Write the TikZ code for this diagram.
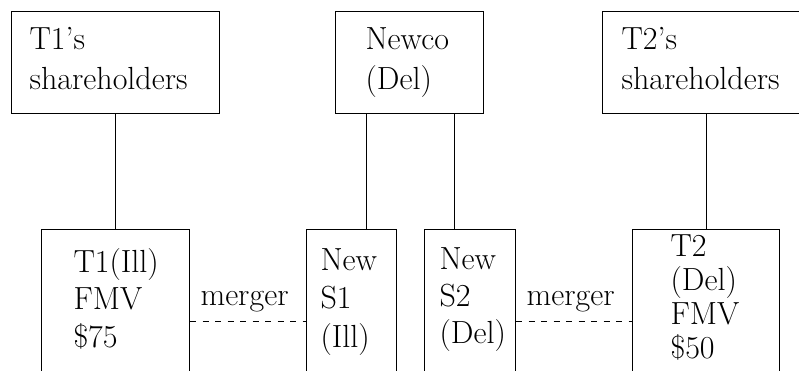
\documentclass[tikz,border=0pt]{standalone}
\usepackage{fontspec}
\begin{document}
\begin{tikzpicture}[x=1pt,y=-1pt,
  line width=1.1pt,
  entity/.style={draw, inner sep=0pt, anchor=north west, minimum height=102pt},
  sub/.style={draw, inner sep=0pt, anchor=north west, minimum height=184pt},
  label/.style={inner sep=0pt, anchor=base west, align=left},
  link/.style={draw},
  mergerline/.style={draw, dash pattern=on 6pt off 6.5pt, line width=0.9pt}
]
\path[use as bounding box] (0,0) rectangle (799,371);
\clip (0,0) rectangle (799,371);

% owners and parent
\node[entity, minimum width=208pt] (t1sh) at (11,11) {};
\node[entity, minimum width=148pt] (newco) at (335,11) {};
\node[entity, minimum width=240pt] (t2sh) at (602,11) {};

% corporations on the lower tier
\node[sub, minimum width=148pt] (t1) at (41,229) {};
\node[sub, minimum width=90pt]  (ns1) at (306,229) {};
\node[sub, minimum width=91pt]  (ns2) at (424,229) {};
\node[sub, minimum width=147pt] (t2) at (632,229) {};

% texts (anchored at the baseline of the last line)
\node[label, font=\fontsize{32}{40}\selectfont] (lt1sh) at (29,90) {T1's\\shareholders};
\node[label, font=\fontsize{32}{40}\selectfont] (lnewco) at (365,90) {Newco\\(Del)};
\node[label, font=\fontsize{32}{40}\selectfont] (lt2sh) at (621,90) {T2's\\shareholders};
\node[label, font=\fontsize{32}{37.5}\selectfont] (lt1) at (73,347) {T1(Ill)\\FMV\\\$75};
\node[label, font=\fontsize{32}{38.5}\selectfont] (lns1) at (320,347) {New\\S1\\(Ill)};
\node[label, font=\fontsize{32}{37}\selectfont] (lns2) at (439,343) {New\\S2\\(Del)};
\node[label, font=\fontsize{32}{33.7}\selectfont] (lt2) at (670,358) {T2\\(Del)\\FMV\\\$50};
\node[label, font=\fontsize{32}{40}\selectfont] (m1) at (200,305) {merger};
\node[label, font=\fontsize{32}{40}\selectfont] (m2) at (526,305) {merger};

% ownership lines
\draw[link] (t1sh.south) -- (t1.north);
\draw[link] ([xshift=15pt]ns1.north) -- ([xshift=15pt]ns1.north |- newco.south);
\draw[link] ([xshift=-15.5pt]ns2.north) -- ([xshift=-15.5pt]ns2.north |- newco.south);
\draw[link] (t2.north) -- (t2.north |- t2sh.south);

% mergers
\draw[mergerline] (t1.east) -- (ns1.west);
\draw[mergerline] (ns2.east) -- (t2.west);
\end{tikzpicture}
\end{document}
